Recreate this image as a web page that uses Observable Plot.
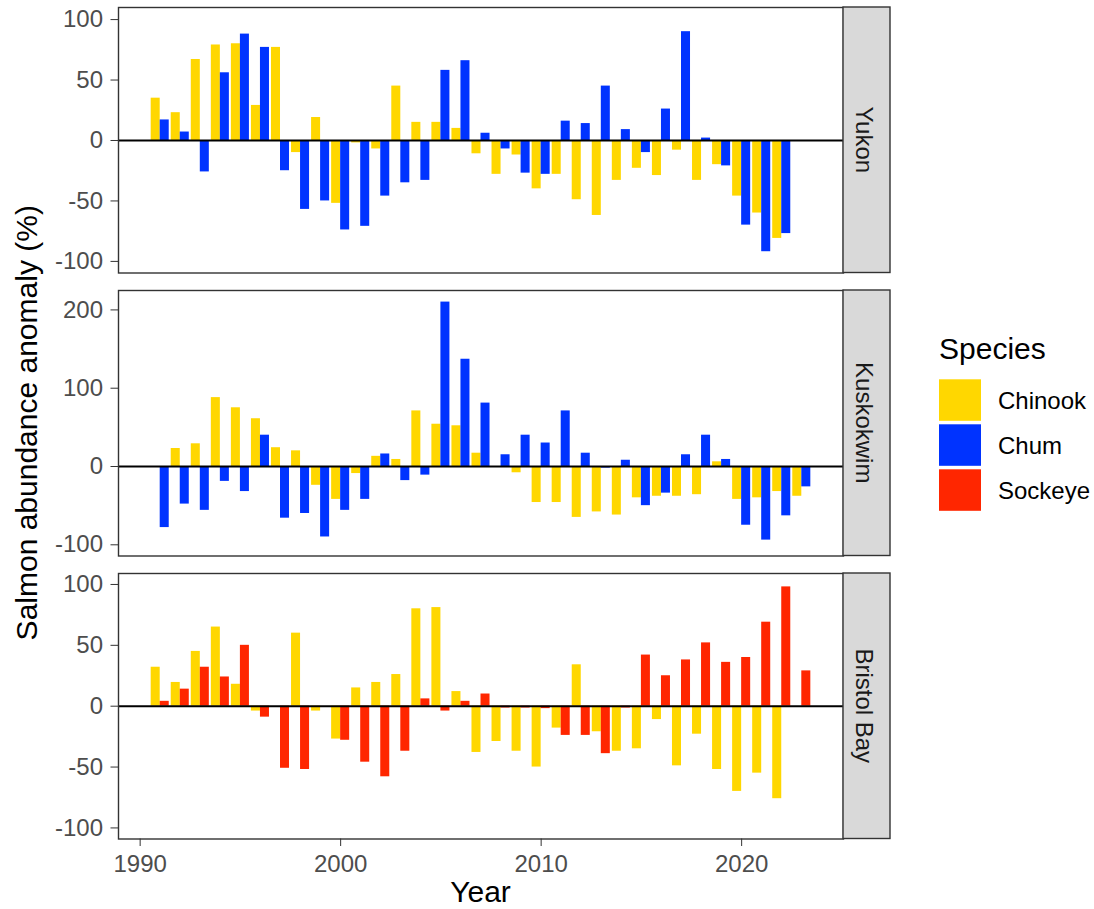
<!DOCTYPE html>
<html><head><meta charset="utf-8">
<script src="https://cdn.jsdelivr.net/npm/d3@7"></script>
<script src="https://cdn.jsdelivr.net/npm/@observablehq/plot@0.6"></script>
<style>
body{margin:0;background:#fff;}
#chart{position:relative;width:1094px;height:909px;background:#fff;font-family:'Liberation Sans',Arial,sans-serif;overflow:hidden;}
#chart > svg{position:absolute;left:0;}
</style></head><body><div id="chart"></div>
<script>
// ---------- data ----------
const years = [1991,1992,1993,1994,1995,1996,1997,1998,1999,2000,2001,2002,2003,2004,2005,2006,2007,2008,2009,2010,2011,2012,2013,2014,2015,2016,2017,2018,2019,2020,2021,2022,2023];
const regions = ["Yukon","Kuskokwim","Bristol Bay"];
const species = ["Chinook","Chum","Sockeye"];
const speciesColors = ["#FFD700","#0033FF","#FF2600"];

const yukonChinook = [35,23,67,79,80,29,77,-10,19,-52,-2,-7,45,15,15,10,-11,-28,-12,-40,-28,-49,-62,-33,-23,-29,-8,-33,-20,-46,-60,-81,null];
const yukonChum    = [17,7,-26,56,88,77,-25,-57,-50,-74,-71,-46,-35,-33,58,66,6,-7,-27,-28,16,14,45,9,-10,26,90,2,-21,-70,-92,-77,null];

const kuskokwimChinook = [null,23,29,88,75,61,24,20,-24,-42,-9,13,9,71,54,52,17,null,-8,-46,-46,-65,-58,-62,-40,-38,-38,-36,6,-42,-40,-32,-38];
const kuskokwimChum    = [-78,-48,-56,-19,-32,40,-66,-60,-90,-56,-42,16,-18,-11,210,137,81,15,40,30,71,17,-2,8,-50,-34,15,40,9,-75,-94,-63,-26];

const bristolChinook = [32,19.5,45,65,18,-4,null,60,-4,-27,15,19.5,26,80,81,12,-38,-29,-37,-50,-18,34,-21,-37,-35,-11,-49,-23,-52,-70,-55,-76,null];
const bristolSockeye = [4,14,32,24,50,-9,-51,-52,null,-28,-46,-58,-37,6,-4,4,10,-1.5,-1.5,-2,-24,-24,-39,-1.5,42,25,38,52,36,40,69,98,29];

const yukonTicks = [-100,-50,0,50,100];
const kuskokwimTicks = [-100,0,100,200];
const bristolTicks = [-100,-50,0,50,100];
const xTicks = [1990,2000,2010,2020];

const yLabel = "Salmon abundance anomaly (%)";
const xLabel = "Year";
const legendTitle = "Species";

// ---------- table ----------
const panels = [
  {region: regions[0], series: [[species[0], yukonChinook],[species[1], yukonChum]], ticks: yukonTicks, domain: [-109.6, 110]},
  {region: regions[1], series: [[species[0], kuskokwimChinook],[species[1], kuskokwimChum]], ticks: kuskokwimTicks, domain: [-114.3, 224.8]},
  {region: regions[2], series: [[species[0], bristolChinook],[species[2], bristolSockeye]], ticks: bristolTicks, domain: [-109.1, 109]}
];
panels.forEach(p => {
  p.rows = [];
  p.series.forEach(([sp, vals], slot) => {
    vals.forEach((v, i) => { if (v != null) p.rows.push({region: p.region, year: years[i], species: sp, value: v, slot}); });
  });
});

// ---------- layout ----------
const W = 1094;
const panelLeft = 118, panelRight = 843;
const panelTops = [7, 290, 573];
const panelH = 265.5;
const mt = 10;
const font = "'Liberation Sans', Arial, sans-serif";
const bw = 0.45;

const chart = document.getElementById("chart");

panels.forEach((p, i) => {
  const last = i === panels.length - 1;
  const mb = last ? 50 : 10;
  const marks = [
    Plot.rect(p.rows, {
      x1: d => d.year - bw + d.slot * bw,
      x2: d => d.year + d.slot * bw,
      y1: 0, y2: "value", fill: "species"
    }),
    Plot.ruleY([0], {stroke: "#000", strokeWidth: 2}),
    Plot.frame({stroke: "#333", strokeWidth: 1.4}),
    Plot.axisY({ticks: p.ticks, tickSize: 7.5, tickPadding: 8, fontSize: 24, label: null, stroke: "#333", fill: "#4d4d4d", tickFormat: d => String(d)})
  ];
  if (last) marks.push(Plot.axisX({ticks: xTicks, tickSize: 7.5, tickPadding: 8.5, fontSize: 24, label: null, stroke: "#333", fill: "#4d4d4d", tickFormat: d => String(d)}));
  const svg = Plot.plot({
    width: W,
    height: panelH + mt + mb,
    marginLeft: panelLeft,
    marginRight: W - panelRight,
    marginTop: mt,
    marginBottom: mb,
    x: {domain: [1988.92, 2025.08], axis: last ? undefined : null},
    y: {domain: p.domain},
    color: {domain: species, range: speciesColors},
    style: {background: "transparent", overflow: "visible", fontFamily: font, fontSize: "24px"},
    marks
  });
  svg.style.top = (panelTops[i] - mt) + "px";
  chart.appendChild(svg);
});

// ---------- overlay: strips, titles, legend ----------
const ov = d3.select(chart).append("svg")
  .attr("width", W).attr("height", 909)
  .style("top", "0px").style("pointer-events", "none")
  .style("font-family", font);

panels.forEach((p, i) => {
  const y0 = panelTops[i];
  ov.append("rect").attr("x", panelRight).attr("y", y0).attr("width", 47).attr("height", panelH)
    .attr("fill", "#d9d9d9").attr("stroke", "#333").attr("stroke-width", 1.4);
  ov.append("text").attr("transform", `translate(${864.3 - 8.6},${y0 + panelH / 2}) rotate(90)`)
    .attr("text-anchor", "middle").attr("font-size", 24).attr("fill", "#1a1a1a").text(p.region);
});

ov.append("text").attr("transform", `translate(37,${(panelTops[0] + panelTops[2] + panelH) / 2}) rotate(-90)`)
  .attr("text-anchor", "middle").attr("font-size", 30).attr("fill", "#000").text(yLabel);

ov.append("text").attr("x", (panelLeft + panelRight) / 2).attr("y", 902)
  .attr("text-anchor", "middle").attr("font-size", 30).attr("fill", "#000").text(xLabel);

const lg = ov.append("g");
lg.append("text").attr("x", 939).attr("y", 359).attr("font-size", 30).attr("fill", "#000").text(legendTitle);
species.forEach((s, k) => {
  const ky = 379.3 + k * 45;
  lg.append("rect").attr("x", 939).attr("y", ky).attr("width", 42).attr("height", 41.5).attr("fill", speciesColors[k]);
  lg.append("text").attr("x", 998).attr("y", ky + 20.75 + 8.6).attr("font-size", 24).attr("fill", "#000").text(s);
});
</script></body></html>
